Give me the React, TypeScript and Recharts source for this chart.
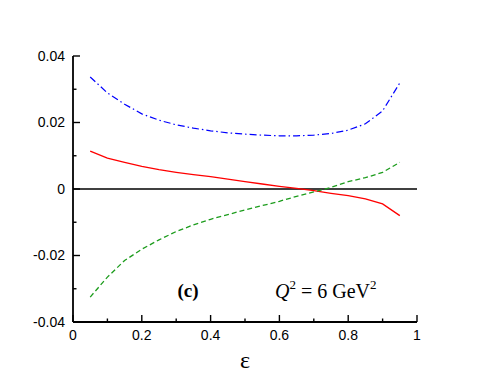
import * as React from 'react'
import {
  LineChart, Line, XAxis, YAxis, ReferenceLine,
} from 'recharts'

// epsilon grid and the three curves
const epsilon = [0.05, 0.1, 0.15, 0.2, 0.25, 0.3, 0.35, 0.4, 0.45, 0.5, 0.55, 0.6, 0.65, 0.7, 0.75, 0.8, 0.85, 0.9, 0.95]
const solidRed = [0.0114, 0.0093, 0.0080, 0.0068, 0.0058, 0.0050, 0.0043, 0.0037, 0.0030, 0.0022, 0.0015, 0.0008, 0.0002, -0.0005, -0.0013, -0.0020, -0.0030, -0.0045, -0.0080]
const dashGreen = [-0.0325, -0.0265, -0.0215, -0.0181, -0.0153, -0.0128, -0.0108, -0.0091, -0.0077, -0.0063, -0.0050, -0.0037, -0.0022, -0.0009, 0.0005, 0.0022, 0.0034, 0.0050, 0.0080]
const dashDotBlue = [0.0337, 0.0289, 0.0255, 0.0226, 0.0207, 0.0193, 0.0183, 0.0175, 0.0169, 0.0165, 0.0162, 0.0160, 0.0160, 0.0162, 0.0167, 0.0177, 0.0196, 0.0235, 0.0319]

const xTicks = [0, 0.1, 0.2, 0.3, 0.4, 0.5, 0.6, 0.7, 0.8, 0.9, 1]
const xMajor = [0, 0.2, 0.4, 0.6, 0.8, 1]
const xLabels = ['0', '0.2', '0.4', '0.6', '0.8', '1']
const yTicks = [-0.04, -0.03, -0.02, -0.01, 0, 0.01, 0.02, 0.03, 0.04]
const yMajor = [-0.04, -0.02, 0, 0.02, 0.04]
const yLabels = ['-0.04', '-0.02', '0', '0.02', '0.04']

const data = epsilon.map((e, i) => ({
  e, red: solidRed[i], green: dashGreen[i], blue: dashDotBlue[i],
}))

const font = '"Liberation Sans", Arial, sans-serif'
const serif = '"Liberation Serif", "Times New Roman", serif'
const MAJOR = 7
const MINOR = 3.5

const tick = (side: 'left' | 'right' | 'top' | 'bottom') => (props: any) => {
  const { x, y, payload } = props
  const v = payload.value
  const isX = side === 'top' || side === 'bottom'
  const majors = isX ? xMajor : yMajor
  const mi = majors.indexOf(v)
  const len = mi >= 0 ? MAJOR : MINOR
  let x2 = x
  let y2 = y
  if (side === 'left') x2 = x + len
  if (side === 'right') x2 = x - len
  if (side === 'bottom') y2 = y - len
  if (side === 'top') y2 = y + len
  return (
    <g>
      <line x1={x} y1={y} x2={x2} y2={y2} stroke="#000" strokeWidth={1.4} />
      {mi >= 0 && side === 'left' && (
        <text x={x - 8} y={y} dy="0.35em" textAnchor="end" fontSize={14} fontFamily={font} fill="#000">
          {yLabels[mi]}
        </text>
      )}
      {mi >= 0 && side === 'bottom' && (
        <text x={x} y={y + 8} dy="0.72em" textAnchor="middle" fontSize={14} fontFamily={font} fill="#000">
          {xLabels[mi]}
        </text>
      )}
    </g>
  )
}

export default function App() {
  return (
    <div style={{ position: 'absolute', left: 0, top: 0 }}>
      <LineChart
        width={491}
        height={379}
        data={data}
        margin={{ top: 56, right: 74, left: 23, bottom: 7 }}
      >
        <XAxis
          xAxisId="b" dataKey="e" type="number" domain={[0, 1]} ticks={xTicks} interval={0}
          height={50} tickSize={0} tickMargin={0} tickLine={false}
          axisLine={{ stroke: '#000', strokeWidth: 1.8 }} tick={tick('bottom')}
          label={{ value: 'ε', position: 'insideBottom', offset: 4, fontSize: 24, fontFamily: serif, fill: '#000' }}
        />
        <XAxis
          xAxisId="t" orientation="top" dataKey="e" type="number" domain={[0, 1]} ticks={xTicks} interval={0}
          height={0} tickSize={0} tickMargin={0} tickLine={false}
          axisLine={{ stroke: '#000', strokeWidth: 1.8 }} tick={tick('top')}
        />
        <YAxis
          yAxisId="l" type="number" domain={[-0.04, 0.04]} ticks={yTicks} interval={0}
          width={50} tickSize={0} tickMargin={0} tickLine={false}
          axisLine={{ stroke: '#000', strokeWidth: 1.8 }} tick={tick('left')}
        />
        <YAxis
          yAxisId="r" orientation="right" type="number" domain={[-0.04, 0.04]} ticks={yTicks} interval={0}
          width={0} tickSize={0} tickMargin={0} tickLine={false}
          axisLine={{ stroke: '#000', strokeWidth: 1.8 }} tick={tick('right')}
        />
        <ReferenceLine xAxisId="b" yAxisId="l" y={0} stroke="#000" strokeWidth={1.4} />
        <Line
          xAxisId="b" yAxisId="l" type="linear" dataKey="blue" stroke="#0000ff" strokeWidth={1.2}
          strokeDasharray="7 3 1.5 3" dot={false} isAnimationActive={false}
        />
        <Line
          xAxisId="b" yAxisId="l" type="linear" dataKey="red" stroke="#ff0000" strokeWidth={1.3}
          dot={false} isAnimationActive={false}
        />
        <Line
          xAxisId="b" yAxisId="l" type="linear" dataKey="green" stroke="#1c9c1c" strokeWidth={1.3}
          strokeDasharray="5 3" dot={false} isAnimationActive={false}
        />
        <text x={188} y={297} textAnchor="middle" fontSize={19} fontWeight="bold" fontFamily={serif} fill="#000">
          (c)
        </text>
        <text x={275} y={298} fontSize={20} fontFamily={serif} fill="#000">
          <tspan fontStyle="italic">Q</tspan>
          <tspan fontSize={13} dy={-9}>2</tspan>
          <tspan dy={9}> = 6 GeV</tspan>
          <tspan fontSize={13} dy={-9}>2</tspan>
        </text>
      </LineChart>
    </div>
  )
}
